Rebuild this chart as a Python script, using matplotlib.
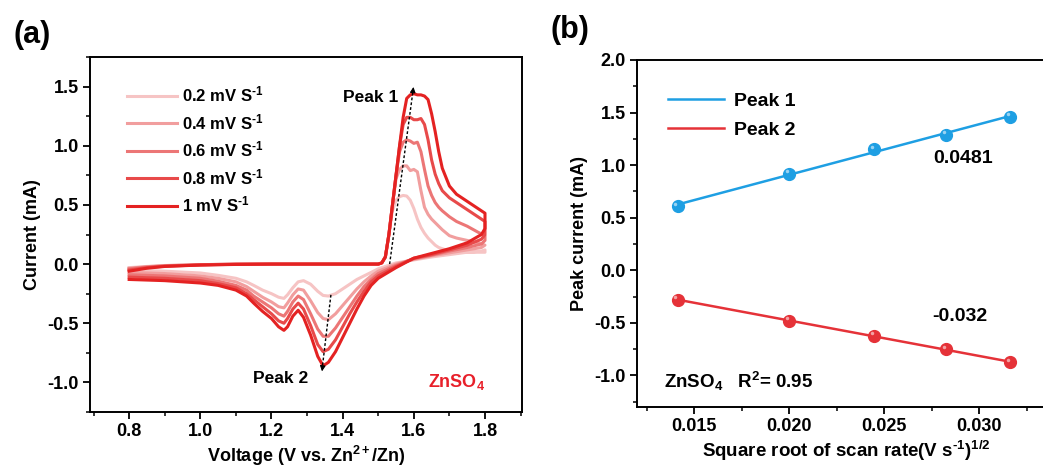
import numpy as np
import matplotlib
matplotlib.use("Agg")
import matplotlib.pyplot as plt
from matplotlib.ticker import MultipleLocator, FormatStrFormatter

plt.rcParams['font.family'] = ['Liberation Sans', 'DejaVu Sans']
plt.rcParams['font.weight'] = 'bold'
plt.rcParams['axes.unicode_minus'] = False
plt.rcParams['mathtext.fontset'] = 'custom'
plt.rcParams['mathtext.rm'] = 'Liberation Sans:bold'
plt.rcParams['mathtext.bf'] = 'Liberation Sans:bold'
plt.rcParams['mathtext.it'] = 'Liberation Sans:bold'
plt.rcParams['mathtext.default'] = 'bf'

HY = '\u2010'  # plain hyphen used in superscripts, as in the original figure

# ---------------- Panel (a) data: CV curves ----------------
scan_labels = ["0.2 mV S$^{" + HY + "1}$", "0.4 mV S$^{" + HY + "1}$",
               "0.6 mV S$^{" + HY + "1}$", "0.8 mV S$^{" + HY + "1}$",
               "1 mV S$^{" + HY + "1}$"]
scan_colors = ['#F6C4C4', '#F19E9E', '#EC7676', '#E84A4A', '#E42222']

# forward (anodic) sweep voltages
v_fwd = [0.80, 0.85, 0.90, 1.00, 1.10, 1.20, 1.30, 1.40, 1.50, 1.51, 1.52, 1.53,
         1.54, 1.55, 1.56, 1.57, 1.58, 1.59, 1.60, 1.61, 1.62, 1.63, 1.64, 1.65,
         1.66, 1.67, 1.68, 1.70, 1.72, 1.75, 1.78, 1.80]
i_fwd_02 = [-0.03, -0.02, -0.012, -0.005, 0.0, 0.0, 0.0, 0.0, 0.0, 0.01, 0.06, 0.25,
            0.45, 0.54, 0.57, 0.58, 0.575, 0.54, 0.47, 0.38, 0.31, 0.26, 0.22, 0.19,
            0.16, 0.14, 0.13, 0.11, 0.105, 0.10, 0.10, 0.10]
i_fwd_04 = [-0.035, -0.022, -0.013, -0.005, 0.0, 0.0, 0.0, 0.0, 0.0, 0.01, 0.06, 0.25,
            0.50, 0.72, 0.80, 0.83, 0.83, 0.79, 0.80, 0.78, 0.62, 0.48, 0.42, 0.38,
            0.35, 0.32, 0.29, 0.24, 0.22, 0.20, 0.18, 0.16]
i_fwd_06 = [-0.04, -0.025, -0.015, -0.006, 0.0, 0.0, 0.0, 0.0, 0.0, 0.01, 0.06, 0.25,
            0.50, 0.75, 0.95, 1.03, 1.05, 1.04, 1.02, 1.03, 0.95, 0.80, 0.66, 0.58,
            0.52, 0.48, 0.45, 0.40, 0.36, 0.32, 0.27, 0.24]
i_fwd_08 = [-0.05, -0.03, -0.018, -0.007, -0.002, 0.0, 0.0, 0.0, 0.0, 0.01, 0.06, 0.25,
            0.50, 0.75, 1.00, 1.18, 1.24, 1.24, 1.22, 1.22, 1.23, 1.18, 1.05, 0.88,
            0.76, 0.68, 0.62, 0.56, 0.52, 0.46, 0.40, 0.36]
i_fwd_10 = [-0.06, -0.035, -0.02, -0.008, -0.003, 0.0, 0.0, 0.0, 0.0, 0.01, 0.06, 0.25,
            0.50, 0.75, 1.00, 1.24, 1.40, 1.43, 1.44, 1.43, 1.43, 1.42, 1.39, 1.27,
            1.12, 0.95, 0.81, 0.66, 0.59, 0.53, 0.47, 0.43]

# reverse (cathodic) sweep voltages
v_rev = [1.80, 1.79, 1.75, 1.70, 1.65, 1.60, 1.55, 1.50, 1.48, 1.46, 1.44, 1.42,
         1.40, 1.38, 1.36, 1.345, 1.33, 1.31, 1.29, 1.275, 1.26, 1.245, 1.235, 1.22,
         1.20, 1.175, 1.15, 1.13, 1.10, 1.05, 1.00, 0.90, 0.80]
i_rev_02 = [0.12, 0.11, 0.10, 0.08, 0.06, 0.035, 0.01, -0.04, -0.07, -0.10, -0.13, -0.17,
            -0.21, -0.25, -0.27, -0.265, -0.23, -0.17, -0.14, -0.15, -0.20, -0.26, -0.29, -0.28,
            -0.25, -0.22, -0.18, -0.15, -0.12, -0.095, -0.075, -0.06, -0.05]
i_rev_04 = [0.16, 0.14, 0.12, 0.095, 0.07, 0.04, 0.0, -0.06, -0.10, -0.15, -0.21, -0.28,
            -0.35, -0.42, -0.47, -0.46, -0.41, -0.31, -0.22, -0.21, -0.26, -0.33, -0.37, -0.36,
            -0.32, -0.28, -0.23, -0.19, -0.15, -0.12, -0.10, -0.08, -0.07]
i_rev_06 = [0.20, 0.17, 0.14, 0.11, 0.075, 0.045, -0.01, -0.08, -0.13, -0.19, -0.27, -0.36,
            -0.45, -0.54, -0.61, -0.61, -0.55, -0.42, -0.30, -0.27, -0.32, -0.40, -0.44, -0.42,
            -0.37, -0.32, -0.27, -0.22, -0.18, -0.145, -0.12, -0.10, -0.09]
i_rev_08 = [0.25, 0.21, 0.16, 0.12, 0.08, 0.05, -0.02, -0.10, -0.15, -0.23, -0.32, -0.42,
            -0.53, -0.64, -0.72, -0.74, -0.68, -0.52, -0.38, -0.33, -0.38, -0.46, -0.50, -0.48,
            -0.42, -0.36, -0.30, -0.25, -0.20, -0.165, -0.14, -0.12, -0.11]
i_rev_10 = [0.30, 0.25, 0.18, 0.13, 0.09, 0.05, -0.03, -0.12, -0.18, -0.27, -0.38, -0.50,
            -0.62, -0.74, -0.83, -0.86, -0.78, -0.60, -0.45, -0.39, -0.44, -0.53, -0.56, -0.53,
            -0.46, -0.40, -0.33, -0.27, -0.22, -0.18, -0.16, -0.14, -0.13]

i_fwd_all = [i_fwd_02, i_fwd_04, i_fwd_06, i_fwd_08, i_fwd_10]
i_rev_all = [i_rev_02, i_rev_04, i_rev_06, i_rev_08, i_rev_10]

# ---------------- Panel (b) data ----------------
sqrt_rate = [0.01414, 0.02000, 0.02449, 0.02828, 0.03162]
peak1_current = [0.61, 0.92, 1.15, 1.29, 1.46]
peak2_current = [-0.28, -0.48, -0.625, -0.75, -0.875]
peak_names = ["Peak 1", "Peak 2"]
blue = '#1E9FE3'
red = '#E53238'

fig = plt.figure(figsize=(10.43, 4.68), dpi=100)

# ================= Panel (a) =================
axa = fig.add_axes([90/1043, 1-412/468, (522-90)/1043, (412-57)/468])
for lab, col, fi, ri in zip(scan_labels, scan_colors, i_fwd_all, i_rev_all):
    v = list(v_fwd) + list(v_rev)
    i = list(fi) + list(ri)
    axa.plot(v, i, color=col, lw=2.2, label=lab, solid_joinstyle='round')

axa.set_xlim(0.69, 1.904)
axa.set_ylim(-1.25, 1.75)
axa.xaxis.set_major_locator(MultipleLocator(0.2))
axa.xaxis.set_minor_locator(MultipleLocator(0.1))
axa.yaxis.set_major_locator(MultipleLocator(0.5))
axa.yaxis.set_minor_locator(MultipleLocator(0.25))
axa.xaxis.set_major_formatter(FormatStrFormatter('%.1f'))
axa.yaxis.set_major_formatter(FormatStrFormatter('%.1f'))
axa.set_xlabel("Voltage (V vs. Zn$^{2+}$/Zn)", fontsize=13, fontweight='bold', labelpad=3)
axa.set_ylabel("Current (mA)", fontsize=13, fontweight='bold', labelpad=5)

# arrows
axa.plot([1.532, 1.598], [0.0, 1.47], ls=(0, (2, 1.5)), color='k', lw=1.0)
axa.annotate('', xy=(1.600, 1.52), xytext=(1.597, 1.45),
             arrowprops=dict(arrowstyle='-|>', color='k', lw=0.8, mutation_scale=8))
axa.plot([1.367, 1.343], [-0.26, -0.87], ls=(0, (2, 1.5)), color='k', lw=1.0)
axa.annotate('', xy=(1.341, -0.93), xytext=(1.344, -0.86),
             arrowprops=dict(arrowstyle='-|>', color='k', lw=0.8, mutation_scale=8))
axa.text(1.555, 1.41, "Peak 1", ha='right', va='center', fontsize=12.5, fontweight='bold')
axa.text(1.225, -0.97, "Peak 2", ha='center', va='center', fontsize=12.5, fontweight='bold')
axa.text(1.72, -1.0, "ZnSO$_4$", ha='center', va='center', fontsize=13,
         fontweight='bold', color='#E8202A')

axa.legend(loc='upper left', bbox_to_anchor=(0.07, 0.94), frameon=False,
           fontsize=12, handlelength=3.0, handletextpad=0.3, labelspacing=0.45,
           borderaxespad=0.0)

# ================= Panel (b) =================
axb = fig.add_axes([637/1043, 1-407/468, (1055-637)/1043, (407-60)/468])
xs = np.array(sqrt_rate)
for ys, col, name in zip([peak1_current, peak2_current], [blue, red], peak_names):
    ys = np.array(ys)
    k, b = np.polyfit(xs, ys, 1)
    axb.plot(xs, k*xs + b, color=col, lw=1.8, label=name)
    axb.plot(xs, ys, 'o', color=col, ms=8.5, mec=col, zorder=3)
    axb.plot(xs - 0.00012, ys + 0.025, 'o', color='white', alpha=0.55, ms=2.5,
             mec='none', zorder=4)

axb.set_xlim(0.012, 0.034)
axb.set_ylim(-1.3, 2.0)
axb.xaxis.set_major_locator(MultipleLocator(0.005))
axb.xaxis.set_minor_locator(MultipleLocator(0.0025))
axb.yaxis.set_major_locator(MultipleLocator(0.5))
axb.yaxis.set_minor_locator(MultipleLocator(0.25))
axb.xaxis.set_major_formatter(FormatStrFormatter('%.3f'))
axb.yaxis.set_major_formatter(FormatStrFormatter('%.1f'))
axb.set_xlabel("Square root of scan rate(V s$^{" + HY + "1}$)$^{1/2}$", fontsize=13.5,
               fontweight='bold', labelpad=3)
axb.set_ylabel("Peak current (mA)", fontsize=13, fontweight='bold', labelpad=5)
axb.text(0.02916, 1.06, "0.0481", ha='center', va='center', fontsize=14, fontweight='bold')
axb.text(0.0290, -0.44, "-0.032", ha='center', va='center', fontsize=14, fontweight='bold')
axb.text(0.01343, -1.06, "ZnSO$_4$   R$^2$= 0.95", ha='left', va='center', fontsize=13.5,
         fontweight='bold')
axb.legend(loc='upper left', bbox_to_anchor=(0.055, 0.93), frameon=False, fontsize=14,
           handlelength=2.9, handletextpad=0.5, labelspacing=0.6, borderaxespad=0.0)

for ax in (axa, axb):
    for sp in ax.spines.values():
        sp.set_linewidth(1.4)
    ax.tick_params(which='major', direction='out', length=5, width=1.3,
                   labelsize=13, pad=3)
    ax.tick_params(which='minor', direction='out', length=3, width=1.1)
    for lbl in ax.get_xticklabels() + ax.get_yticklabels():
        lbl.set_fontweight('bold')

fig.text(32/1043, 1-35/468, "(a)", fontsize=22, fontweight='bold', ha='center', va='center')
fig.text(570/1043, 1-30/468, "(b)", fontsize=22, fontweight='bold', ha='center', va='center')

fig.savefig("out.png", dpi=100)
